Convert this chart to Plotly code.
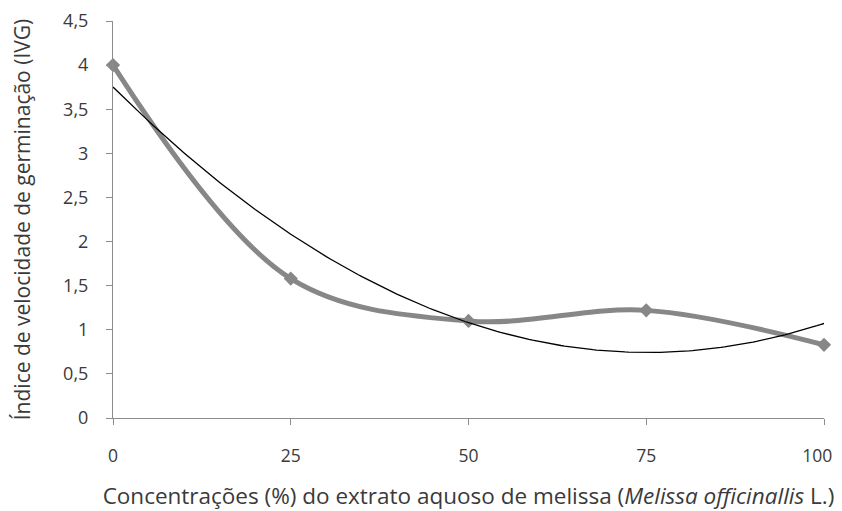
import numpy as np
import plotly.graph_objects as go

conc = [0, 25, 50, 75, 100]
ivg = [4.0, 1.58, 1.10, 1.22, 0.83]
x_ticks = [0, 25, 50, 75, 100]
x_labels = ["0", "25", "50", "75", "100"]
y_ticks = [0, 0.5, 1, 1.5, 2, 2.5, 3, 3.5, 4, 4.5]
y_labels = ["0", "0,5", "1", "1,5", "2", "2,5", "3", "3,5", "4", "4,5"]

# Polynomial (2nd order) trend line fitted to the data
coef = np.polyfit(conc, ivg, 2)
xt = np.linspace(0, 100, 201)
yt = np.polyval(coef, xt)

fig = go.Figure()
fig.add_trace(go.Scatter(
    x=conc, y=ivg, mode="lines+markers",
    line=dict(color="#878787", width=5, shape="spline", smoothing=1.0),
    marker=dict(symbol="diamond", size=11, color="#878787"),
    showlegend=False, cliponaxis=False))
fig.add_trace(go.Scatter(
    x=xt, y=yt, mode="lines",
    line=dict(color="#000000", width=1.3),
    showlegend=False, cliponaxis=False))

font = "Open Sans"
txt = "#3a3a3a"
sp = "\u00a0\u00a0\u00a0"
# keep the last x label inside the chart, as in the original
x_text = x_labels[:-1] + [x_labels[-1] + sp]
fig.update_layout(
    width=826, height=503,
    margin=dict(l=105, r=10, t=13, b=93),
    paper_bgcolor="white", plot_bgcolor="white",
    font=dict(family=font, color=txt, size=16),
    xaxis=dict(range=[0, 100], tickvals=x_ticks, ticktext=x_text,
               automargin=False, ticklabeloverflow="allow",
               showgrid=False, zeroline=False, showline=True, linecolor="#8c8c8c",
               linewidth=1, ticks="outside", ticklen=6, tickcolor="#8c8c8c",
               ticklabelstandoff=16,
               tickfont=dict(size=17.5, color=txt),
               title=dict(text="Concentrações (%) do extrato aquoso de melissa (<i>Melissa officinallis</i> L.)",
                          font=dict(size=22.5, color=txt), standoff=24)),
    yaxis=dict(range=[0, 4.5], tickvals=y_ticks, ticktext=[t + sp for t in y_labels],
               automargin=False, ticklabeloverflow="allow",
               showgrid=False, zeroline=False, showline=True, linecolor="#8c8c8c",
               linewidth=1, ticks="outside", ticklen=6, tickcolor="#8c8c8c",
               tickfont=dict(size=18, color=txt),
               title=dict(text="Índice de velocidade de germinação (IVG)",
                          font=dict(size=21, color=txt), standoff=34)),
)

fig.write_html("out.html")
